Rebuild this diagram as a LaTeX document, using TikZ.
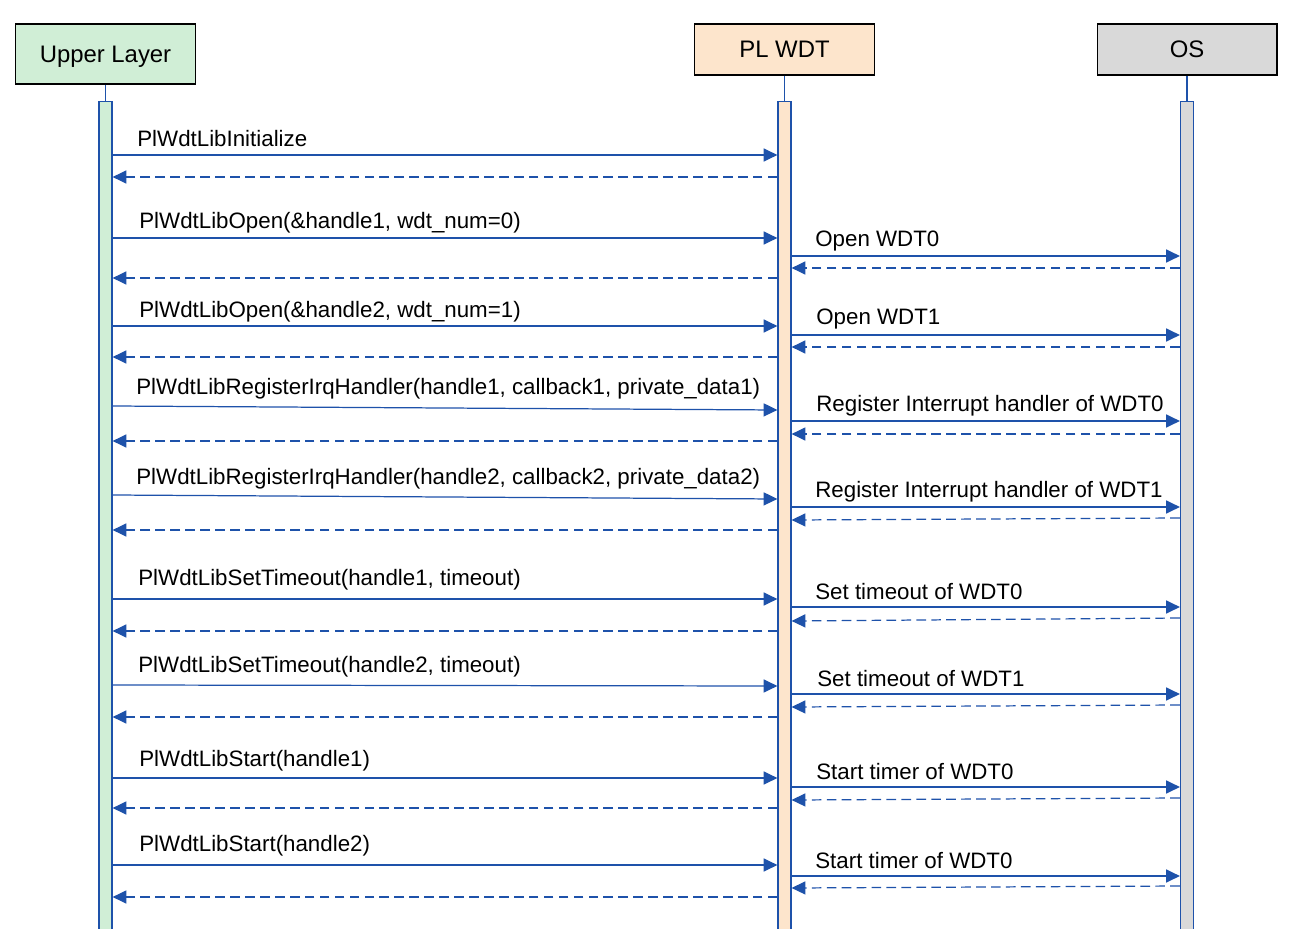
\documentclass[tikz,border=0pt]{standalone}
\usepackage{fontspec}
\setmainfont{Liberation Sans}
\usetikzlibrary{arrows.meta,positioning}
\definecolor{seqblue}{RGB}{30,82,170}
\definecolor{ulgreen}{RGB}{208,238,214}
\definecolor{plpeach}{RGB}{253,229,204}
\definecolor{osgray}{RGB}{217,217,217}
\begin{document}
\begin{tikzpicture}[x=0.02cm,y=-0.02cm,
  head/.style={draw=black,line width=0.6pt,minimum width=3.6cm,inner sep=0pt,text depth=0pt,font=\fontsize{13.6}{16}\selectfont},
  bar/.style={draw=seqblue,line width=0.7pt,minimum width=0.26cm,minimum height=16.56cm,anchor=north,inner sep=0pt},
  call/.style={seqblue,line width=0.7pt,-{Triangle[length=7.8pt,width=7.4pt]}},
  ret/.style={call,dash pattern=on 5.5pt off 3pt},
  msg/.style={anchor=west,inner sep=0pt,yshift=-0.04cm,font=\fontsize{12.7}{15}\selectfont}]
\useasboundingbox (0,0) rectangle (1291,929);
% lifelines
\node[head,fill=ulgreen,minimum height=1.2cm] (ul) at (105.5,54) {Upper Layer};
\node[head,fill=plpeach,minimum height=1.02cm] (pl) at (784.5,49.5) {PL WDT};
\node[head,fill=osgray,minimum height=1.02cm] (os) at (1187,49.5) {OS};
\node[bar,fill=ulgreen] (ulbar) at (105.5,101) {};
\node[bar,fill=plpeach] (plbar) at (784.5,101) {};
\node[bar,fill=osgray] (osbar) at (1187,101) {};
\draw[seqblue,line width=0.7pt] (ul.south) -- (ulbar.north);
\draw[seqblue,line width=0.7pt] (pl.south) -- (plbar.north);
\draw[seqblue,line width=0.7pt] (os.south) -- (osbar.north);

% initialize
\node[msg] (init) at (137,137) {PlWdtLibInitialize};
\draw[call] (ulbar.east|-0,155) -- (plbar.west|-0,155);
\draw[ret] (plbar.west|-0,177) -- (ulbar.east|-0,177);

% open
\node[msg] (open1) at (139,221) {PlWdtLibOpen(\&handle1, wdt\_num=0)};
\draw[call] (ulbar.east|-0,238) -- (plbar.west|-0,238);
\node[msg] (osopen1) at (815,239) {Open WDT0};
\draw[call] (plbar.east|-0,256) -- (osbar.west|-0,256);
\draw[ret] (osbar.west|-0,268) -- (plbar.east|-0,268);
\draw[ret] (plbar.west|-0,278) -- (ulbar.east|-0,278);

\node[msg] (open2) at (139,310) {PlWdtLibOpen(\&handle2, wdt\_num=1)};
\draw[call] (ulbar.east|-0,326) -- (plbar.west|-0,326);
\node[msg] (osopen2) at (816,317) {Open WDT1};
\draw[call] (plbar.east|-0,335) -- (osbar.west|-0,335);
\draw[ret] (osbar.west|-0,347) -- (plbar.east|-0,347);
\draw[ret] (plbar.west|-0,357) -- (ulbar.east|-0,357);

% irq handlers
\node[msg] (irq1) at (136,387) {PlWdtLibRegisterIrqHandler(handle1, callback1, private\_data1)};
\draw[call] (ulbar.east|-0,406) -- (plbar.west|-0,410);
\node[msg] (osirq1) at (816,404) {Register Interrupt handler of WDT0};
\draw[call] (plbar.east|-0,421) -- (osbar.west|-0,421);
\draw[ret] (osbar.west|-0,434) -- (plbar.east|-0,434);
\draw[ret] (plbar.west|-0,441) -- (ulbar.east|-0,441);

\node[msg] (irq2) at (136,477) {PlWdtLibRegisterIrqHandler(handle2, callback2, private\_data2)};
\draw[call] (ulbar.east|-0,495) -- (plbar.west|-0,499);
\node[msg] (osirq2) at (815,490) {Register Interrupt handler of WDT1};
\draw[call] (plbar.east|-0,507) -- (osbar.west|-0,507);
\draw[ret] (osbar.west|-0,518) -- (plbar.east|-0,520);
\draw[ret] (plbar.west|-0,530) -- (ulbar.east|-0,530);

% timeouts
\node[msg] (tmo1) at (138,578) {PlWdtLibSetTimeout(handle1, timeout)};
\draw[call] (ulbar.east|-0,599) -- (plbar.west|-0,599);
\node[msg] (ostmo1) at (815,590) {Set timeout of WDT0};
\draw[call] (plbar.east|-0,607) -- (osbar.west|-0,607);
\draw[ret] (osbar.west|-0,618) -- (plbar.east|-0,621);
\draw[ret] (plbar.west|-0,631) -- (ulbar.east|-0,631);

\node[msg] (tmo2) at (138,665) {PlWdtLibSetTimeout(handle2, timeout)};
\draw[call] (ulbar.east|-0,685) -- (plbar.west|-0,686);
\node[msg] (ostmo2) at (817,677) {Set timeout of WDT1};
\draw[call] (plbar.east|-0,694) -- (osbar.west|-0,694);
\draw[ret] (osbar.west|-0,705) -- (plbar.east|-0,707);
\draw[ret] (plbar.west|-0,717) -- (ulbar.east|-0,717);

% start
\node[msg] (start1) at (139,759) {PlWdtLibStart(handle1)};
\draw[call] (ulbar.east|-0,778) -- (plbar.west|-0,778);
\node[msg] (osstart1) at (816,770) {Start timer of WDT0};
\draw[call] (plbar.east|-0,787) -- (osbar.west|-0,787);
\draw[ret] (osbar.west|-0,798) -- (plbar.east|-0,800);
\draw[ret] (plbar.west|-0,808) -- (ulbar.east|-0,808);

\node[msg] (start2) at (139,844) {PlWdtLibStart(handle2)};
\draw[call] (ulbar.east|-0,865) -- (plbar.west|-0,865);
\node[msg] (osstart2) at (815,859) {Start timer of WDT0};
\draw[call] (plbar.east|-0,876) -- (osbar.west|-0,876);
\draw[ret] (osbar.west|-0,886) -- (plbar.east|-0,888);
\draw[ret] (plbar.west|-0,897) -- (ulbar.east|-0,897);
\end{tikzpicture}
\end{document}
